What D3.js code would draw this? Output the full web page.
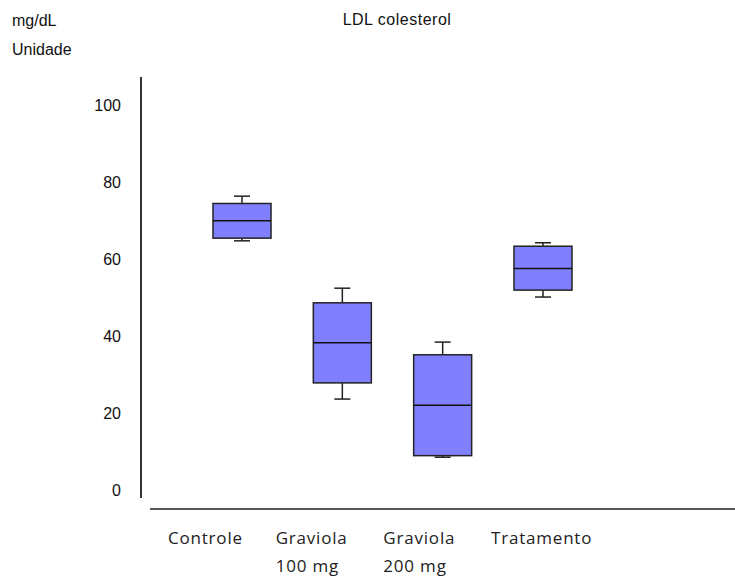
<!DOCTYPE html>
<html>
<head>
<meta charset="utf-8">
<script src="https://cdn.jsdelivr.net/npm/d3@7"></script>
<style>
  html, body { margin: 0; padding: 0; background: #fff; }
  svg { display: block; }
</style>
</head>
<body>
<svg id="chart" width="735" height="577"></svg>
<script>
// LDL cholesterol by group (mg/dL)
const groups = ["Controle", "Graviola 100 mg", "Graviola 200 mg", "Tratamento"];
const groupLabels = [["Controle"], ["Graviola", "100 mg"], ["Graviola", "200 mg"], ["Tratamento"]];
const whiskerMin = [64.2, 23.1, 8.0, 49.6];
const quartile1 = [64.9, 27.3, 8.4, 51.4];
const medians = [69.4, 37.7, 21.5, 57.0];
const quartile3 = [73.9, 48.1, 34.6, 62.8];
const whiskerMax = [75.8, 51.9, 37.9, 63.7];
const yTicks = [0, 20, 40, 60, 80, 100];

const svg = d3.select("#chart");

const y = d3.scaleLinear().domain([0, 100]).range([488, 103]);
const x = d3.scalePoint().domain(groups).range([242, 543]);
const labelX = d3.scalePoint().domain(groups).range([168, 491]);

const boxW = 58, capW = 16;
const strokeCol = "#222";

// Titles
const smallFont = "Liberation Sans, Arial, sans-serif";
function smallText(sel) {
  return sel.attr("font-family", smallFont).attr("font-size", 16).attr("fill", "#111");
}
smallText(svg.append("text").attr("x", 12).attr("y", 26).text("mg/dL"));
smallText(svg.append("text").attr("x", 12).attr("y", 55).text("Unidade"));
smallText(svg.append("text").attr("x", 397).attr("y", 25).attr("text-anchor", "middle")
  .attr("letter-spacing", 0.5).text("LDL colesterol"));

// Y axis labels (no tick marks)
const yAxis = d3.axisLeft(y).tickValues(yTicks).tickSize(0).tickPadding(0);
const gy = svg.append("g").attr("transform", "translate(121,0)").call(yAxis);
gy.select(".domain").remove();
smallText(gy.selectAll("text")).attr("dy", "0.48em");

// Axis lines
svg.append("line").attr("x1", 141).attr("x2", 141).attr("y1", 77).attr("y2", 498)
  .attr("stroke", "#333").attr("stroke-width", 2);
svg.append("line").attr("x1", 150).attr("x2", 735).attr("y1", 509).attr("y2", 509)
  .attr("stroke", "#555").attr("stroke-width", 2);

// Box plots
const data = groups.map((g, i) => ({
  g, min: whiskerMin[i], q1: quartile1[i], med: medians[i], q3: quartile3[i], max: whiskerMax[i]
}));

const box = svg.append("g").selectAll("g").data(data).join("g");

box.append("line")
  .attr("x1", d => x(d.g)).attr("x2", d => x(d.g))
  .attr("y1", d => y(d.max)).attr("y2", d => y(d.q3))
  .attr("stroke", strokeCol).attr("stroke-width", 1.5);
box.append("line")
  .attr("x1", d => x(d.g)).attr("x2", d => x(d.g))
  .attr("y1", d => y(d.q1)).attr("y2", d => y(d.min))
  .attr("stroke", strokeCol).attr("stroke-width", 1.5);
box.append("line")
  .attr("x1", d => x(d.g) - capW / 2).attr("x2", d => x(d.g) + capW / 2)
  .attr("y1", d => y(d.max)).attr("y2", d => y(d.max))
  .attr("stroke", strokeCol).attr("stroke-width", 1.5);
box.append("line")
  .attr("x1", d => x(d.g) - capW / 2).attr("x2", d => x(d.g) + capW / 2)
  .attr("y1", d => y(d.min)).attr("y2", d => y(d.min))
  .attr("stroke", strokeCol).attr("stroke-width", 1.5);
box.append("rect")
  .attr("x", d => x(d.g) - boxW / 2).attr("width", boxW)
  .attr("y", d => y(d.q3)).attr("height", d => y(d.q1) - y(d.q3))
  .attr("fill", "#8080ff").attr("stroke", strokeCol).attr("stroke-width", 1.5);
box.append("line")
  .attr("x1", d => x(d.g) - boxW / 2).attr("x2", d => x(d.g) + boxW / 2)
  .attr("y1", d => y(d.med)).attr("y2", d => y(d.med))
  .attr("stroke", "#111").attr("stroke-width", 1.5);

// Category labels
const lab = svg.append("g").selectAll("text").data(groups).join("text")
  .attr("x", d => labelX(d)).attr("y", 544)
  .attr("font-family", "Open Sans, Noto Sans, sans-serif").attr("font-size", 17)
  .attr("letter-spacing", 0.8).attr("fill", "#222");
lab.each(function(d, i) {
  d3.select(this).selectAll("tspan").data(groupLabels[i]).join("tspan")
    .attr("x", labelX(d)).attr("dy", (t, j) => j === 0 ? 0 : 28).text(t => t);
});
</script>
</body>
</html>
